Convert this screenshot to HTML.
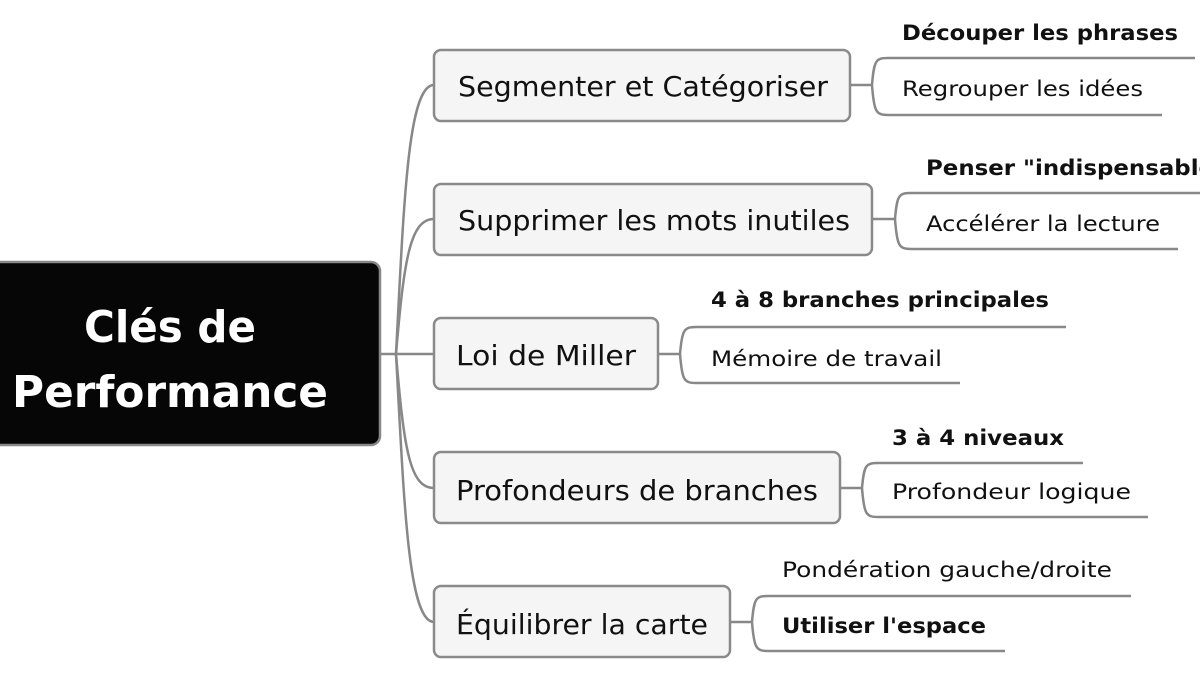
<!DOCTYPE html>
<html><head><meta charset="utf-8"><style>
html,body{margin:0;padding:0;background:#fff;width:1200px;height:675px;overflow:hidden}
svg{display:block}
text{font-family:"DejaVu Sans","Liberation Sans",sans-serif;fill:#111}
</style></head><body>
<svg width="1200" height="675" viewBox="0 0 1200 675" xmlns="http://www.w3.org/2000/svg">
<g fill="none" stroke="#888" stroke-width="2.5">
<path d="M380 354 H396"/>
<path d="M396 354 C404 200 408 85 434 85"/>
<path d="M396 354 C404 260 410 219 434 219"/>
<path d="M396 354 H434"/>
<path d="M396 354 C404 450 410 488 434 488"/>
<path d="M396 354 C404 500 408 622 434 622"/>
<path d="M850 85 H872 M872 85 C874 60 876 58 888 58 H1195 M872 85 C874 112 876 115 888 115 H1162"/>
<path d="M872 219 H895 M895 219 C897 195 899 193 911 193 H1200 M895 219 C897 246 899 249 911 249 H1178"/>
<path d="M658 354 H680 M680 354 C682 330 684 327 696 327 H1066 M680 354 C682 380 684 383 696 383 H960"/>
<path d="M840 488 H862 M862 488 C864 465 866 463 878 463 H1083 M862 488 C864 514 866 517 878 517 H1148"/>
<path d="M730 622 H752 M752 622 C754 598 756 596 768 596 H1131 M752 622 C754 648 756 651 768 651 H1005"/>
</g>
<rect x="-10" y="262" width="390" height="183" rx="9" fill="#060606" stroke="#888" stroke-width="2.5"/>
<text x="170" y="342" text-anchor="middle" font-size="44" font-weight="bold" style="fill:#fff" textLength="172" lengthAdjust="spacingAndGlyphs">Clés de</text>
<text x="170" y="407" text-anchor="middle" font-size="44" font-weight="bold" style="fill:#fff" textLength="316" lengthAdjust="spacingAndGlyphs">Performance</text>
<g fill="#f4f5f4" stroke="#8a8a8a" stroke-width="2.5">
<rect x="434" y="50" width="416" height="71" rx="7"/>
<rect x="434" y="184" width="438" height="71" rx="7"/>
<rect x="434" y="318" width="224" height="71" rx="7"/>
<rect x="434" y="452" width="406" height="71" rx="7"/>
<rect x="434" y="586" width="296" height="71" rx="7"/>
</g>
<g font-size="28">
<text x="458" y="96" textLength="370" lengthAdjust="spacingAndGlyphs">Segmenter et Catégoriser</text>
<text x="458" y="230" textLength="392" lengthAdjust="spacingAndGlyphs">Supprimer les mots inutiles</text>
<text x="456" y="365" textLength="180" lengthAdjust="spacingAndGlyphs">Loi de Miller</text>
<text x="456" y="500" textLength="362" lengthAdjust="spacingAndGlyphs">Profondeurs de branches</text>
<text x="456" y="634" textLength="252" lengthAdjust="spacingAndGlyphs">Équilibrer la carte</text>
</g>
<g font-size="21">
<text x="902" y="40" font-weight="bold" textLength="276" lengthAdjust="spacingAndGlyphs">Découper les phrases</text>
<text x="902" y="96" textLength="241" lengthAdjust="spacingAndGlyphs">Regrouper les idées</text>
<text x="926" y="175" font-weight="bold" textLength="300" lengthAdjust="spacingAndGlyphs">Penser "indispensable"</text>
<text x="926" y="231" textLength="234" lengthAdjust="spacingAndGlyphs">Accélérer la lecture</text>
<text x="711" y="307" font-weight="bold" textLength="338" lengthAdjust="spacingAndGlyphs">4 à 8 branches principales</text>
<text x="711" y="366" textLength="231" lengthAdjust="spacingAndGlyphs">Mémoire de travail</text>
<text x="892" y="445" font-weight="bold" textLength="172" lengthAdjust="spacingAndGlyphs">3 à 4 niveaux</text>
<text x="892" y="499" textLength="239" lengthAdjust="spacingAndGlyphs">Profondeur logique</text>
<text x="782" y="577" textLength="330" lengthAdjust="spacingAndGlyphs">Pondération gauche/droite</text>
<text x="782" y="633" font-weight="bold" textLength="204" lengthAdjust="spacingAndGlyphs">Utiliser l'espace</text>
</g>
</svg>
</body></html>
